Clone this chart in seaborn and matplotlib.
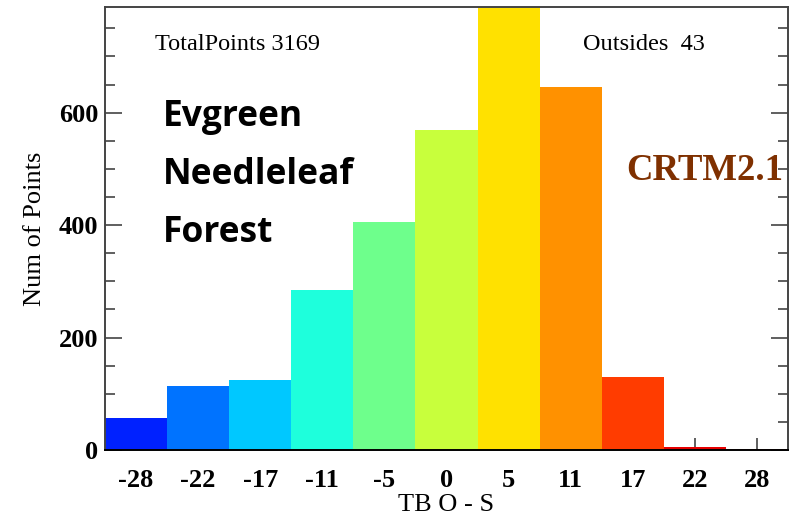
import matplotlib
matplotlib.use("Agg")
import matplotlib.pyplot as plt
import seaborn as sns
import pandas as pd
from matplotlib.ticker import MultipleLocator

# Histogram of brightness-temperature departures (observation minus simulation)
bin_labels = ["-28", "-22", "-17", "-11", "-5", "0", "5", "11", "17", "22", "28"]
counts = [57, 113, 125, 284, 405, 569, 791, 645, 130, 6, 1]
bar_colors = ["#0021FF", "#0073FF", "#00C8FF", "#1EFFDC", "#6EFF8C", "#C8FF3C",
              "#FFE100", "#FF9100", "#FF3C00", "#E60000", "#B40000"]
total_points = 3169
outsides = 43

df = pd.DataFrame({"bin": bin_labels, "count": counts})

sns.set_theme(style="white")
plt.rcParams["font.family"] = ["Liberation Serif", "DejaVu Serif"]
plt.rcParams["text.color"] = "black"
plt.rcParams["axes.labelcolor"] = "black"
plt.rcParams["xtick.color"] = "black"
plt.rcParams["ytick.color"] = "black"

fig = plt.figure(figsize=(7.98, 5.19), dpi=100)
ax = fig.add_axes([105 / 798, 1 - 450 / 519, 683 / 798, 443 / 519])

sns.barplot(data=df, x="bin", y="count", hue="bin", palette=bar_colors,
            width=1.0, saturation=1.0, legend=False, linewidth=0, ax=ax)

ax.set_xlim(-0.5, len(bin_labels) - 0.5)
ax.set_ylim(0, 788)

ax.yaxis.set_major_locator(MultipleLocator(200))
ax.yaxis.set_minor_locator(MultipleLocator(50))
ax.tick_params(axis="y", which="both", direction="in", left=True, right=True,
               labelleft=True, labelright=False, color="#444444", width=1.2)
ax.tick_params(axis="y", which="major", length=12, pad=5)
ax.tick_params(axis="y", which="minor", length=7)
ax.tick_params(axis="x", which="major", direction="in", bottom=True, top=False,
               length=9, width=1.2, color="#444444", pad=14)
ax.tick_params(axis="both", labelsize=19)
for lbl in ax.get_xticklabels() + ax.get_yticklabels():
    lbl.set_fontweight("bold")

for side in ["left", "right", "top", "bottom"]:
    ax.spines[side].set_visible(True)
    ax.spines[side].set_color("#444444")
    ax.spines[side].set_linewidth(1.4)
ax.spines["bottom"].set_color("black")

ax.set_xlabel("TB O - S", fontsize=19, labelpad=1)
ax.set_ylabel("Num of Points", fontsize=19, labelpad=9)

fig.text(155 / 798, 1 - 44 / 519, f"TotalPoints {total_points}", fontsize=17.5,
         va="center", ha="left")
fig.text(583 / 798, 1 - 44 / 519, f"Outsides  {outsides}", fontsize=17.5,
         va="center", ha="left")

for word, y in [("Evgreen", 117), ("Needleleaf", 175), ("Forest", 233)]:
    fig.text(163 / 798, 1 - y / 519, word, fontsize=25.5, fontweight="bold",
             family=["Open Sans", "DejaVu Sans"], va="center", ha="left")

fig.text(783 / 798, 1 - 170 / 519, "CRTM2.1", fontsize=26.5, fontweight="bold",
         color="#7F3000", va="center", ha="right")

fig.savefig("out.png", dpi=100)
